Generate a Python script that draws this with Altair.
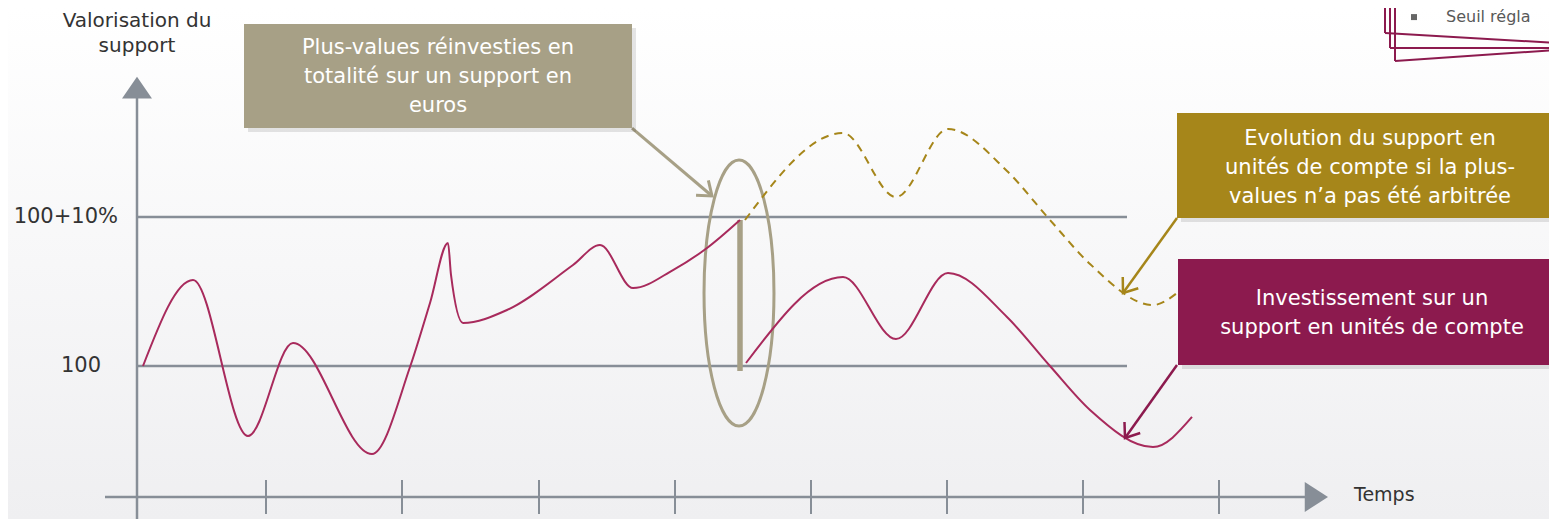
import altair as alt
import pandas as pd

# ---- data (time index: 0 = vertical axis ; valuation: base 100) ----
seg1_t = [6, 56, 111, 156, 235, 273, 293, 311, 314, 326, 370, 436, 463, 496, 536, 570, 603]
seg1_v = [100.0, 105.77, 95.30, 101.54, 94.09, 99.93, 104.23, 108.26, 106.11, 102.89, 103.76, 106.78,
          108.12, 105.23, 106.44, 107.92, 109.80]
seg2_t = [609, 706, 759, 811, 870, 913, 953, 1016, 1055]
seg2_v = [100.20, 105.97, 101.81, 106.24, 103.29, 100.0, 97.05, 94.56, 96.58]
dash_t = [608, 706, 759, 811, 870, 913, 953, 1016, 1040]
dash_v = [109.80, 115.64, 111.34, 115.91, 113.09, 109.80, 106.85, 104.09, 104.90]
tick_t = [129, 265, 402, 538, 674, 810, 946, 1082]
level_v = [100, 110]
level_labels = ["100", "100+10%"]
label_x = [-36, -19]

box1_lines = ["Plus-values réinvesties en", "totalité sur un support en", "euros"]
box2_lines = ["Evolution du support en", "unités de compte si la plus-", "values n’a pas été arbitrée"]
box3_lines = ["Investissement sur un", "support en unités de compte"]

W, H = 1541, 511
XD = [-129, 1412]
YD = [89.73, 124.03]
GRAY = "#878e97"
TAUPE = "#a7a086"
GOLD = "#a6861a"
PLUM = "#8c1a4e"
CURVE = "#a82a5c"
FONT = "DejaVu Sans"

xs = alt.Scale(domain=XD, nice=False, zero=False)
ys = alt.Scale(domain=YD, nice=False, zero=False)


def X(f="x"):
    return alt.X(f"{f}:Q", scale=xs, axis=None)


def Y(f="y"):
    return alt.Y(f"{f}:Q", scale=ys, axis=None)


def df(**kw):
    return pd.DataFrame(kw)


layers = []

# background gradient
layers.append(
    alt.Chart(df(x=[XD[0]], x2=[XD[1]], y=[YD[0]], y2=[YD[1]])).mark_rect(
        color=alt.LinearGradient(gradient="linear",
                                 stops=[alt.GradientStop(color="#ffffff", offset=0),
                                        alt.GradientStop(color="#efeff1", offset=1)],
                                 x1=0, x2=0, y1=0, y2=1)
    ).encode(x=X(), x2="x2:Q", y=Y(), y2="y2:Q")
)

# level lines
layers.append(
    alt.Chart(df(x=[0, 0], x2=[990, 990], y=level_v)).mark_rule(color=GRAY, strokeWidth=2.5)
    .encode(x=X(), x2="x2:Q", y=Y())
)
# y axis
layers.append(
    alt.Chart(df(x=[0], y=[89.0], y2=[118.3])).mark_rule(color=GRAY, strokeWidth=2.5)
    .encode(x=X(), y=Y(), y2="y2:Q")
)
# x axis
layers.append(
    alt.Chart(df(x=[-32], x2=[1170], y=[91.21])).mark_rule(color=GRAY, strokeWidth=2.5)
    .encode(x=X(), x2="x2:Q", y=Y())
)
# ticks
layers.append(
    alt.Chart(df(x=tick_t, y=[90.07] * len(tick_t), y2=[92.35] * len(tick_t))).mark_rule(color=GRAY, strokeWidth=2)
    .encode(x=X(), y=Y(), y2="y2:Q")
)
# axis arrowheads
layers.append(
    alt.Chart(df(x=[0], y=[118.66])).mark_point(shape="M0,-0.75L1,0.7L-1,0.7Z", size=900, filled=True,
                                                 color=GRAY, opacity=1)
    .encode(x=X(), y=Y())
)
layers.append(
    alt.Chart(df(x=[1179], y=[91.21])).mark_point(shape="M-0.75,-1L0.8,0L-0.75,1Z", size=900, filled=True,
                                                   color=GRAY, opacity=1)
    .encode(x=X(), y=Y())
)

# axis labels
layers.append(
    alt.Chart(df(x=[0, 0], y=[123.15, 121.48], t=["Valorisation du", "support"])).mark_text(
        font=FONT, fontSize=20, color="#333333", align="center", baseline="middle")
    .encode(x=X(), y=Y(), text="t:N")
)
layers.append(
    alt.Chart(df(x=label_x, y=level_v, t=level_labels)).mark_text(
        font=FONT, fontSize=21, color="#333333", align="right", baseline="middle")
    .encode(x=X(), y=Y(), text="t:N")
)
layers.append(
    alt.Chart(df(x=[1217], y=[91.34], t=["Temps"])).mark_text(
        font=FONT, fontSize=19, color="#333333", align="left", baseline="middle")
    .encode(x=X(), y=Y(), text="t:N")
)

# ellipse + reinvestment bar
ell = ("M0,-1C0.1453,-1,0.263,-0.5523,0.263,0C0.263,0.5523,0.1453,1,0,1"
       "C-0.1453,1,-0.263,0.5523,-0.263,0C-0.263,-0.5523,-0.1453,-1,0,-1Z")
layers.append(
    alt.Chart(df(x=[602], y=[104.90])).mark_point(shape=ell, size=266 * 266, filled=False, stroke=TAUPE,
                                                  strokeWidth=3, opacity=1)
    .encode(x=X(), y=Y())
)
layers.append(
    alt.Chart(df(x=[603], y=[99.66], y2=[109.8])).mark_rule(color=TAUPE, strokeWidth=5.5)
    .encode(x=X(), y=Y(), y2="y2:Q")
)

# curves
layers.append(
    alt.Chart(df(x=dash_t, y=dash_v, o=list(range(len(dash_t))))).mark_line(
        color=GOLD, strokeWidth=2, strokeDash=[8, 6], interpolate="monotone")
    .encode(x=X(), y=Y(), order="o:Q")
)
layers.append(
    alt.Chart(df(x=seg1_t, y=seg1_v, o=list(range(len(seg1_t))))).mark_line(
        color=CURVE, strokeWidth=2, interpolate="monotone")
    .encode(x=X(), y=Y(), order="o:Q")
)
layers.append(
    alt.Chart(df(x=seg2_t, y=seg2_v, o=list(range(len(seg2_t))))).mark_line(
        color=CURVE, strokeWidth=2, interpolate="monotone")
    .encode(x=X(), y=Y(), order="o:Q")
)

# arrows
arrows = [
    (495, 115.97, 575, 111.41, TAUPE, 3, 130),
    (1040, 109.93, 986, 104.90, GOLD, 2.5, 216),
    (1040, 100.07, 988, 95.17, PLUM, 2.5, 215),
]
for x1, y1, x2, y2, c, w, a in arrows:
    layers.append(
        alt.Chart(df(x=[x1], y=[y1], x2=[x2], y2=[y2])).mark_rule(color=c, strokeWidth=w)
        .encode(x=X(), y=Y(), x2="x2:Q", y2="y2:Q")
    )
    layers.append(
        alt.Chart(df(x=[x2], y=[y2])).mark_point(shape="M-0.6,0.8L0,0L0.6,0.8", size=1024, filled=False,
                                                 stroke=c, strokeWidth=w, angle=a, opacity=1)
        .encode(x=X(), y=Y())
    )

# boxes
boxes = [
    (107, 495, 115.97, 122.95, TAUPE, 301, [121.34, 119.40, 117.45], box1_lines),
    (1040, 1420, 109.93, 116.98, GOLD, 1233, [115.23, 113.29, 111.34], box2_lines),
    (1041, 1420, 100.07, 107.18, PLUM, 1235, [104.50, 102.55], box3_lines),
]
for bx1, bx2, by1, by2, c, tx, tys, lines in boxes:
    layers.append(
        alt.Chart(df(x=[bx1 + 4], x2=[bx2 + 4], y=[by1 - 0.27], y2=[by2 - 0.27])).mark_rect(
            color="#000000", opacity=0.10)
        .encode(x=X(), x2="x2:Q", y=Y(), y2="y2:Q")
    )
    layers.append(
        alt.Chart(df(x=[bx1], x2=[bx2], y=[by1], y2=[by2])).mark_rect(color=c, opacity=1)
        .encode(x=X(), x2="x2:Q", y=Y(), y2="y2:Q")
    )
    layers.append(
        alt.Chart(df(x=[tx] * len(lines), y=tys, t=lines)).mark_text(
            font=FONT, fontSize=21, color="#ffffff", align="center", baseline="middle")
        .encode(x=X(), y=Y(), text="t:N")
    )

# top-right fragment of another slide element
frag_x1 = [1248, 1248, 1253, 1253, 1258, 1258]
frag_y1 = [124.6, 122.35, 124.6, 121.34, 124.6, 120.47]
frag_x2 = [1248, 1420, 1253, 1420, 1258, 1420]
frag_y2 = [122.35, 121.68, 121.34, 121.34, 120.47, 121.21]
layers.append(
    alt.Chart(df(x=frag_x1, y=frag_y1, x2=frag_x2, y2=frag_y2)).mark_rule(color=PLUM, strokeWidth=2)
    .encode(x=X(), y=Y(), x2="x2:Q", y2="y2:Q")
)
layers.append(
    alt.Chart(df(x=[1277], y=[123.42])).mark_square(size=36, color="#666666", opacity=1)
    .encode(x=X(), y=Y())
)
layers.append(
    alt.Chart(df(x=[1309], y=[123.42], t=["Seuil régla"])).mark_text(
        font=FONT, fontSize=16, color="#595959", align="left", baseline="middle")
    .encode(x=X(), y=Y(), text="t:N")
)

chart = alt.layer(*layers).properties(
    width=W, height=H, padding=0, autosize=alt.AutoSizeParams(type="none")
).configure_view(stroke=None).configure(background="#ffffff")

chart.save("out.html", embed_options={"renderer": "svg", "actions": False})
